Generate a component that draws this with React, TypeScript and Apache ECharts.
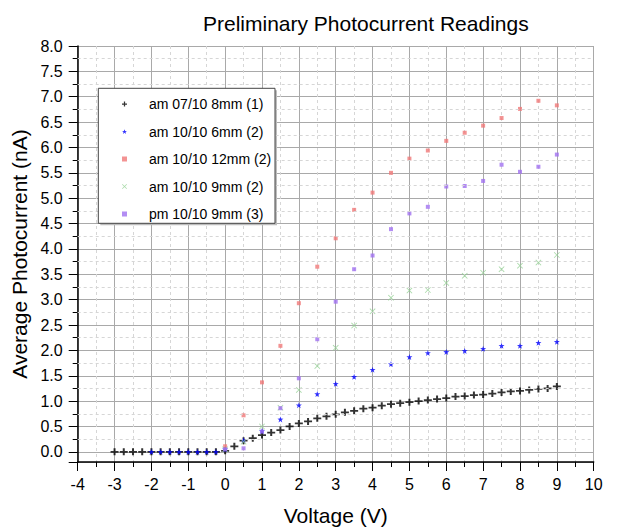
import React, { useEffect, useRef } from 'react';
import * as echarts from 'echarts';

const seriesNames = ['am 07/10 8mm (1)', 'am 10/10 6mm (2)', 'am 10/10 12mm (2)', 'am 10/10 9mm (2)', 'pm 10/10 9mm (3)'];

const vBlack = [-3, -2.75, -2.5, -2.25, -2, -1.75, -1.5, -1.25, -1, -0.75, -0.5, -0.25, 0, 0.25, 0.5, 0.75, 1, 1.25, 1.5, 1.75, 2, 2.25, 2.5, 2.75, 3, 3.25, 3.5, 3.75, 4, 4.25, 4.5, 4.75, 5, 5.25, 5.5, 5.75, 6, 6.25, 6.5, 6.75, 7, 7.25, 7.5, 7.75, 8, 8.25, 8.5, 8.75, 9];
const iBlack = [0, 0, 0, 0, 0, 0, 0, 0, 0, 0, 0, 0, 0.02, 0.11, 0.22, 0.27, 0.33, 0.38, 0.43, 0.5, 0.56, 0.6, 0.66, 0.7, 0.74, 0.78, 0.81, 0.85, 0.87, 0.91, 0.94, 0.96, 0.98, 1.0, 1.02, 1.04, 1.06, 1.09, 1.1, 1.12, 1.13, 1.15, 1.17, 1.19, 1.2, 1.22, 1.24, 1.25, 1.29];

const vBlue = [-2, -1.75, -1.5, -1.25, -1, -0.75, -0.5, -0.25, 0, 0.5, 1, 1.5, 2, 2.5, 3, 3.5, 4, 4.5, 5, 5.5, 6, 6.5, 7, 7.5, 8, 8.5, 9];
const iBlue = [0, 0, 0, 0, 0, 0, 0, 0, 0.05, 0.23, 0.41, 0.64, 0.92, 1.14, 1.34, 1.48, 1.62, 1.73, 1.87, 1.95, 1.97, 1.99, 2.03, 2.09, 2.09, 2.15, 2.17];

const vHalf = [0, 0.5, 1, 1.5, 2, 2.5, 3, 3.5, 4, 4.5, 5, 5.5, 6, 6.5, 7, 7.5, 8, 8.5, 9];
const iRed = [0.11, 0.72, 1.37, 2.09, 2.93, 3.65, 4.21, 4.77, 5.11, 5.5, 5.78, 5.94, 6.13, 6.29, 6.43, 6.58, 6.76, 6.92, 6.83];
const iGreen = [0.05, 0.2, 0.5, 0.87, 1.22, 1.69, 2.05, 2.49, 2.77, 3.04, 3.18, 3.19, 3.33, 3.47, 3.53, 3.6, 3.67, 3.73, 3.88];
const iPurple = [0.05, 0.07, 0.4, 0.86, 1.45, 2.22, 2.96, 3.6, 3.87, 4.39, 4.7, 4.83, 5.23, 5.24, 5.34, 5.66, 5.52, 5.62, 5.86];

const yMinorLines = [0.25, 0.75, 1.25, 1.75, 2.25, 2.75, 3.25, 3.75, 4.25, 4.75, 5.25, 5.75, 6.25, 6.75, 7.25, 7.75];

const pairs = (xs: number[], ys: number[]) => xs.map((x, i) => [x, ys[i]]);

export default function App() {
  const ref = useRef<HTMLDivElement>(null);
  useEffect(() => {
    const chart = echarts.init(ref.current!, null, { renderer: 'svg' });
    const font = 'Liberation Sans, Arial, sans-serif';
    const plus = 'path://M0,3H8V5H0Z M3,0H5V8H3Z';
    const star = 'path://M5,0L6.2,3.5L10,3.6L7,5.9L8.1,9.5L5,7.4L1.9,9.5L3,5.9L0,3.6L3.8,3.5Z';
    const cross = 'path://M0,1L1,0L5,4L9,0L10,1L6,5L10,9L9,10L5,6L1,10L0,9L4,5Z';
    const square = 'path://M0,0H10V10H0Z';
    const majorColor = '#a9a9a9';
    const minorStyle = { color: '#d6d6d6', type: [3, 3], width: 1 };
    chart.setOption({
      animation: false,
      backgroundColor: '#fff',
      title: {
        text: 'Preliminary Photocurrent Readings',
        left: 198,
        top: 8,
        textStyle: { fontFamily: font, fontSize: 21, fontWeight: 'normal', color: '#000' },
      },
      grid: { left: 77.7, right: 27.3, top: 46, bottom: 67.7, containLabel: false },
      xAxis: {
        type: 'value',
        min: -4,
        max: 10,
        interval: 1,
        axisLine: { show: true, onZero: false, lineStyle: { color: '#000', width: 1.5 } },
        axisTick: { show: true, inside: false, length: 9, lineStyle: { color: '#000' } },
        minorTick: { show: true, splitNumber: 2, length: 5, lineStyle: { color: '#000' } },
        axisLabel: { fontFamily: font, fontSize: 16, color: '#000', margin: 14 },
        splitLine: { show: true, lineStyle: { color: majorColor, width: 1 } },
        minorSplitLine: { show: true, lineStyle: minorStyle },
        name: 'Voltage (V)',
        nameLocation: 'middle',
        nameGap: 43,
        nameTextStyle: { fontFamily: font, fontSize: 21, color: '#000' },
      },
      yAxis: {
        type: 'value',
        min: -0.2,
        max: 8,
        splitNumber: 16,
        minInterval: 0.5,
        maxInterval: 0.5,
        axisLine: { show: true, onZero: false, lineStyle: { color: '#000', width: 1.5 } },
        axisTick: { show: true, inside: false, length: 9, lineStyle: { color: '#000' } },
        minorTick: { show: true, splitNumber: 2, length: 5, lineStyle: { color: '#000' } },
        axisLabel: {
          fontFamily: font,
          fontSize: 16,
          color: '#000',
          margin: 15,
          formatter: (v: number) => (v < 0 ? '' : v.toFixed(1)),
        },
        splitLine: { show: true, lineStyle: { color: majorColor, width: 1 } },
        minorSplitLine: { show: false },
        name: 'Average Photocurrent (nA)',
        nameLocation: 'middle',
        nameGap: 44,
        nameTextStyle: { fontFamily: font, fontSize: 21, color: '#000' },
      },
      legend: {
        data: seriesNames,
        orient: 'vertical',
        left: 122,
        top: 97,
        padding: 0,
        itemWidth: 5,
        itemHeight: 5,
        itemGap: 13.5,
        z: 10,
        textStyle: { fontFamily: font, fontSize: 14, color: '#000', lineHeight: 14, padding: [0, 0, 0, 17] },
      },
      graphic: [
        { type: 'rect', z: 5, shape: { x: 100.3, y: 90.3, width: 176.7, height: 135 }, style: { fill: '#bdbdbd' } },
        { type: 'rect', z: 6, shape: { x: 98.3, y: 88.3, width: 176.7, height: 135 }, style: { fill: '#fff', stroke: '#444', lineWidth: 1 } },
      ],
      series: [
        {
          name: 'gridMinor',
          type: 'scatter',
          data: [],
          z: 1,
          silent: true,
          markLine: {
            silent: true,
            symbol: ['none', 'none'],
            label: { show: false },
            lineStyle: minorStyle,
            data: yMinorLines.map((y) => ({ yAxis: y })),
          },
        },
        {
          name: seriesNames[0], type: 'scatter', z: 3, symbol: plus, symbolSize: [8, 7],
          itemStyle: { color: '#000' }, data: pairs(vBlack, iBlack),
        },
        {
          name: seriesNames[1], type: 'scatter', z: 3, symbol: star, symbolSize: 6,
          itemStyle: { color: '#0000ff' }, data: pairs(vBlue, iBlue),
        },
        {
          name: seriesNames[2], type: 'scatter', z: 3, symbol: square, symbolSize: 4,
          itemStyle: { color: '#f07878' }, data: pairs(vHalf, iRed),
        },
        {
          name: seriesNames[3], type: 'scatter', z: 3, symbol: cross, symbolSize: 6,
          itemStyle: { color: '#93d193' }, data: pairs(vHalf, iGreen),
        },
        {
          name: seriesNames[4], type: 'scatter', z: 3, symbol: square, symbolSize: 4,
          itemStyle: { color: '#a070f0' }, data: pairs(vHalf, iPurple),
        },
      ],
    });
    return () => chart.dispose();
  }, []);
  return <div ref={ref} style={{ width: 621, height: 531, position: 'absolute', left: 0, top: 0 }} />;
}
